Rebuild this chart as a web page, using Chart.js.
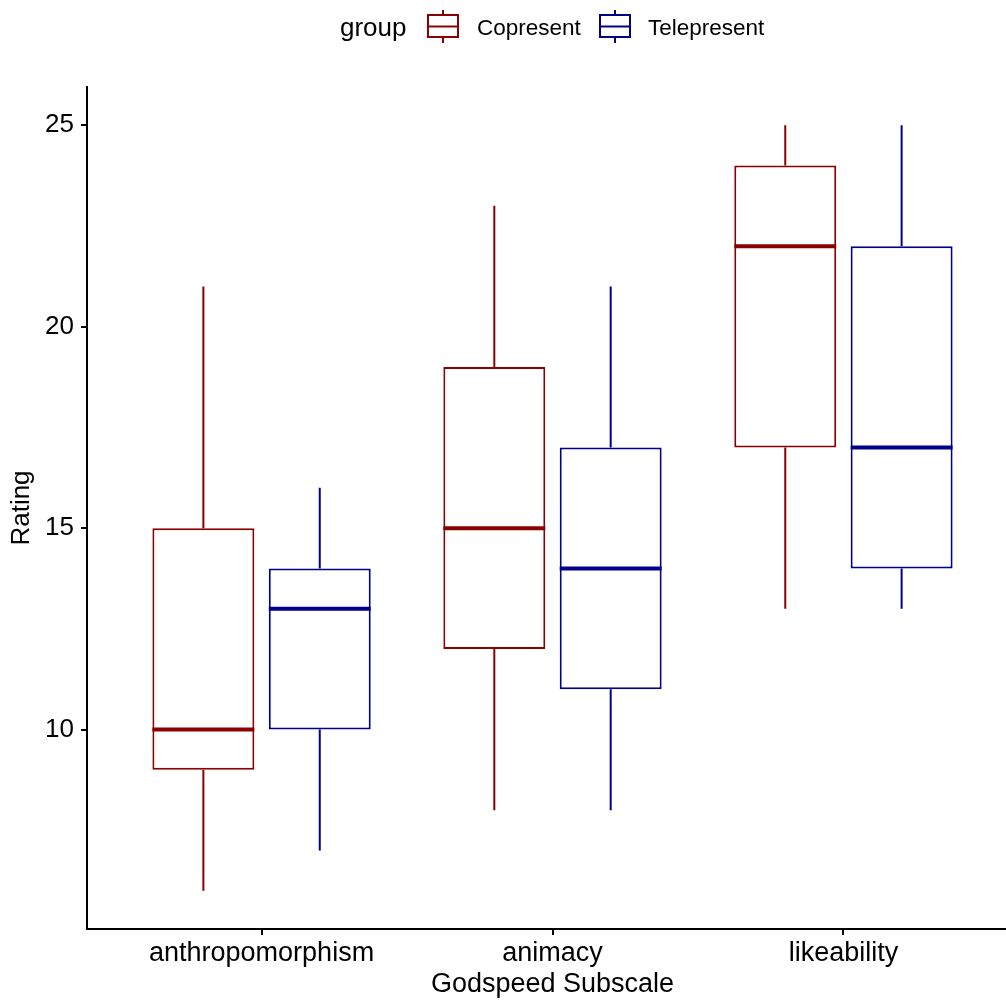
<!DOCTYPE html>
<html>
<head>
<meta charset="utf-8">
<script src="https://cdn.jsdelivr.net/npm/chart.js@4/dist/chart.umd.min.js"></script>
<style>
  body { margin: 0; overflow: hidden; background: #fff; font-family: "Liberation Sans", Arial, sans-serif; }
  #wrap { position: relative; width: 1006px; height: 1001px; overflow: hidden; }
  #grafico { position: absolute; left: 0; top: 0; }
  .leg { position: absolute; line-height: 1; color: #000; white-space: nowrap; }
</style>
</head>
<body>
<div id="wrap">
  <canvas id="grafico" width="1020" height="1001"></canvas>
  <div class="leg" style="left:340px;top:14px;font-size:26px;">group</div>
  <svg class="leg" style="left:425px;top:8px;" width="36" height="38">
    <line x1="18" y1="2" x2="18" y2="35" stroke="#8B0000" stroke-width="2"/>
    <rect x="3" y="7" width="30" height="22" fill="#fff" stroke="#8B0000" stroke-width="2"/>
    <line x1="3" y1="18.5" x2="33" y2="18.5" stroke="#8B0000" stroke-width="2"/>
  </svg>
  <div class="leg" style="left:477px;top:17px;font-size:22.5px;">Copresent</div>
  <svg class="leg" style="left:597px;top:8px;" width="36" height="38">
    <line x1="18" y1="2" x2="18" y2="35" stroke="#00008B" stroke-width="2"/>
    <rect x="3" y="7" width="30" height="22" fill="#fff" stroke="#00008B" stroke-width="2"/>
    <line x1="3" y1="18.5" x2="33" y2="18.5" stroke="#00008B" stroke-width="2"/>
  </svg>
  <div class="leg" style="left:648px;top:17px;font-size:22.5px;">Telepresent</div>
</div>
<script>
// Godspeed boxplot data
var categories = ['anthropomorphism', 'animacy', 'likeability'];
var groups = ['Copresent', 'Telepresent'];
var colors = ['#8B0000', '#00008B'];

var copresentMin = [6, 8, 13];
var copresentQ1 = [9, 12, 17];
var copresentMed = [10, 15, 22];
var copresentQ3 = [15, 19, 24];
var copresentMax = [21, 23, 25];

var telepresentMin = [7, 8, 13];
var telepresentQ1 = [10, 11, 14];
var telepresentMed = [13, 14, 17];
var telepresentQ3 = [14, 17, 22];
var telepresentMax = [16, 21, 25];

var yTicks = [10, 15, 20, 25];

var stats = [
    { min: copresentMin, q1: copresentQ1, med: copresentMed, q3: copresentQ3, max: copresentMax },
    { min: telepresentMin, q1: telepresentQ1, med: telepresentMed, q3: telepresentQ3, max: telepresentMax }
];

var datasets = [];
for (var g = 0; g < groups.length; g++) {
    var pts = [];
    for (var i = 0; i < categories.length; i++) {
        pts.push({ x: i + 1, y: [stats[g].q1[i], stats[g].q3[i]] });
    }
    datasets.push({
        label: groups[g],
        data: pts,
        borderColor: colors[g],
        backgroundColor: '#ffffff',
        borderWidth: 2,
        borderSkipped: false,
        categoryPercentage: 0.8,
        barPercentage: 0.876
    });
}

// whiskers + medians on top of the floating bars
var boxParts = {
    id: 'boxParts',
    afterDatasetsDraw: function (chart) {
        var ctx = chart.ctx;
        var y = chart.scales.y;
        ctx.save();
        for (var g = 0; g < chart.data.datasets.length; g++) {
            var meta = chart.getDatasetMeta(g);
            for (var i = 0; i < meta.data.length; i++) {
                var bar = meta.data[i];
                var half = bar.width / 2;
                ctx.strokeStyle = colors[g];
                ctx.lineWidth = 2;
                ctx.beginPath();
                ctx.moveTo(bar.x, y.getPixelForValue(stats[g].max[i]));
                ctx.lineTo(bar.x, y.getPixelForValue(stats[g].q3[i]));
                ctx.moveTo(bar.x, y.getPixelForValue(stats[g].q1[i]));
                ctx.lineTo(bar.x, y.getPixelForValue(stats[g].min[i]));
                ctx.stroke();
                ctx.lineWidth = 4;
                ctx.beginPath();
                var ym = y.getPixelForValue(stats[g].med[i]);
                ctx.moveTo(bar.x - half, ym);
                ctx.lineTo(bar.x + half, ym);
                ctx.stroke();
            }
        }
        ctx.restore();
    }
};

var font = { family: '"Liberation Sans", Arial, sans-serif', size: 26 };
var xFont = { family: '"Liberation Sans", Arial, sans-serif', size: 27 };

var ctx = document.getElementById('grafico');
var chart = new Chart(ctx, {
    type: 'bar',
    data: { datasets: datasets },
    options: {
        responsive: false,
        animation: false,
        layout: { padding: { top: 87, right: 2, left: 0, bottom: 0 } },
        plugins: { legend: { display: false }, tooltip: { enabled: false } },
        scales: {
            x: {
                type: 'linear',
                min: 0.4,
                max: 3.6,
                offset: false,
                afterFit: function (s) { s.height = 72; },
                afterBuildTicks: function (s) {
                    s.ticks = categories.map(function (c, i) { return { value: i + 1 }; });
                },
                ticks: {
                    color: '#000',
                    font: xFont,
                    padding: 2,
                    maxRotation: 0,
                    callback: function (v) { return categories[v - 1]; }
                },
                grid: { offset: false, drawOnChartArea: false, color: '#000', lineWidth: 2, tickLength: 6 },
                border: { color: '#000', width: 2 },
                title: { display: true, text: 'Godspeed Subscale', color: '#000', font: xFont, padding: { top: 0, bottom: 0 } }
            },
            y: {
                min: 5.05,
                max: 25.95,
                afterFit: function (s) { s.width = 87; },
                afterBuildTicks: function (s) {
                    s.ticks = yTicks.map(function (v) { return { value: v }; });
                },
                ticks: { color: '#000', font: font, padding: 7 },
                grid: { drawOnChartArea: false, color: '#000', lineWidth: 2, tickLength: 6 },
                border: { color: '#000', width: 2 },
                title: { display: true, text: 'Rating', color: '#000', font: font, padding: { top: 6, bottom: 0 } }
            }
        }
    },
    plugins: [boxParts]
});
</script>
</body>
</html>
